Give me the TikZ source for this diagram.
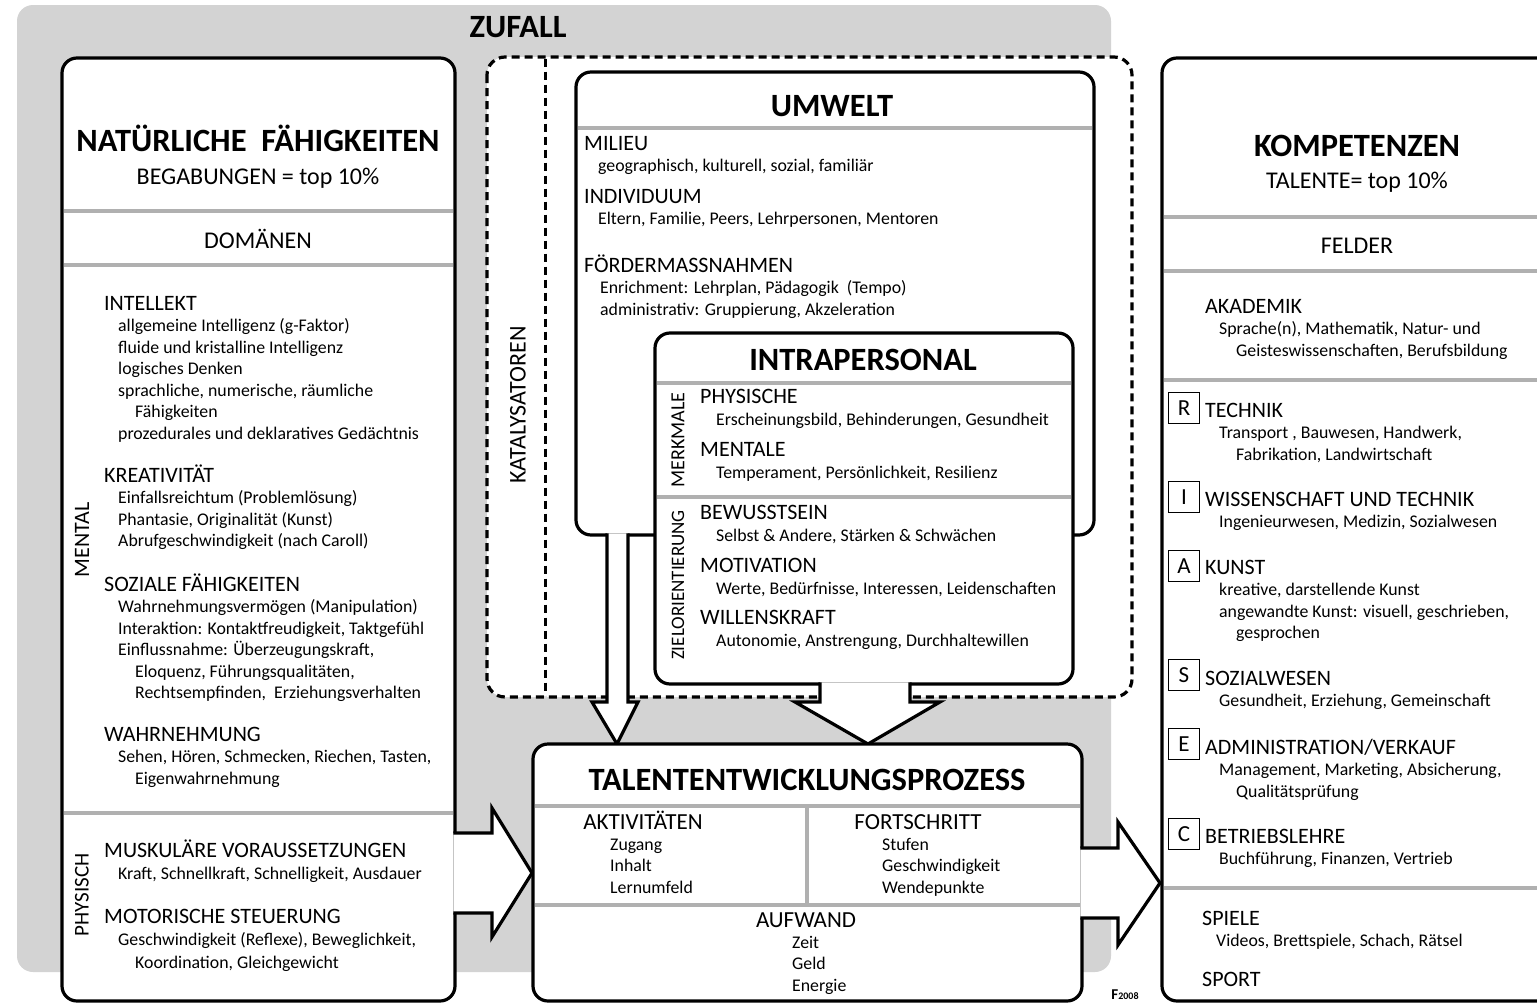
\documentclass[tikz,border=0pt]{standalone}
\usepackage{fontspec}
\setmainfont{Carlito}
\usetikzlibrary{positioning}

\definecolor{zgray}{RGB}{211,211,211}
\definecolor{sepgray}{RGB}{176,176,176}

\newcommand{\hd}[1]{{\fontsize{22}{22}\selectfont\rule{0pt}{18pt}#1}}
\newcommand{\itm}{\hspace*{14pt}}
\newcommand{\cnt}{\hspace*{31pt}}

\tikzset{
  box/.style={draw, line width=3.2pt, fill=white, rounded corners=15pt},
  hline/.style={draw=sepgray, line width=4pt},
  kat/.style={draw, line width=3.2pt, dash pattern=on 8pt off 5pt, fill=white, rounded corners=18pt},
  arr/.style={draw, line width=3.2pt, fill=white, line join=miter, miter limit=10},
  ttl/.style={anchor=base, inner sep=0, font=\fontsize{32.5}{32.5}\selectfont\bfseries},
  subttl/.style={anchor=base, inner sep=0, font=\fontsize{24}{24}\selectfont},
  grp/.style={anchor=north west, yshift=18pt, inner sep=0, align=left, font=\fontsize{17.8}{21.5}\selectfont},
  side/.style={rotate=90, inner sep=0, font=\fontsize{22}{22}\selectfont},
  lbox/.style={draw, line width=1.3pt, minimum size=31pt, inner sep=0, font=\fontsize{23}{23}\selectfont},
}

\begin{document}
\begin{tikzpicture}[x=1pt, y=-1pt]
    \useasboundingbox (0,0) rectangle (1537,1004);
    \clip (0,0) rectangle (1537,1004);

    % zufall
    \fill[zgray, rounded corners=16pt] (17,5) rectangle (1111,972);
    \node(zuf) [ttl] at (518,37) {ZUFALL};

    % katalysatoren
    \draw[kat] (487,57) rectangle (1132,697);
    \draw[line width=3pt, dash pattern=on 8pt off 5pt] (545,58.5) -- (545,695.5);
    \node(kat) [side, font=\fontsize{24}{24}\selectfont] at (518,405) {KATALYSATOREN};

    % umwelt
    \draw[box] (576,72) rectangle (1094,535);
    \draw[arr] (607,533.4) -- (607,702) -- (592,702) -- (617,744) -- (638,702) -- (628,702) -- (628,533.4);
    \draw[hline] (578,128) -- (1092,128);
    \node(umw) [ttl] at (832,116) {UMWELT};
    \node(mil) [grp] at (584,150) {\hd{MILIEU}\\ \itm geographisch, kulturell, sozial, familiär};
    \node(ind) [grp] at (584,203) {\hd{INDIVIDUUM}\\ \itm Eltern, Familie, Peers, Lehrpersonen, Mentoren};
    \node(foe) [grp] at (584,272) {\hd{FÖRDERMASSNAHMEN}\\ \hspace*{16pt}Enrichment: Lehrplan, Pädagogik~~(Tempo)\\ \hspace*{16pt}administrativ: Gruppierung, Akzeleration};

    % intrapersonal
    \draw[box] (655,333) rectangle (1073,684);
    \draw[arr] (820,682.4) -- (820,702) -- (795,702) -- (868,744) -- (940,702) -- (910,702) -- (910,682.4);
    \draw[hline] (657,383) -- (1071,383);
    \draw[hline] (657,497) -- (1071,497);
    \node(intra) [ttl] at (863,370) {INTRAPERSONAL};
    \node(merk) [side, font=\fontsize{20}{20}\selectfont] at (678,440) {MERKMALE};
    \node(ziel) [side, font=\fontsize{19}{19}\selectfont] at (678,585) {ZIELORIENTIERUNG};
    \node(phy) [grp, font=\fontsize{17.8}{22}\selectfont] at (700,403) {\hd{PHYSISCHE}\\ \hspace*{16pt}Erscheinungsbild, Behinderungen, Gesundheit};
    \node(men) [grp, font=\fontsize{17.8}{22}\selectfont] at (700,456) {\hd{MENTALE}\\ \hspace*{16pt}Temperament, Persönlichkeit, Resilienz};
    \node(bew) [grp, font=\fontsize{17.8}{22}\selectfont] at (700,519) {\hd{BEWUSSTSEIN}\\ \hspace*{16pt}Selbst \& Andere, Stärken \& Schwächen};
    \node(mot) [grp, font=\fontsize{17.8}{22}\selectfont] at (700,572) {\hd{MOTIVATION}\\ \hspace*{16pt}Werte, Bedürfnisse, Interessen, Leidenschaften};
    \node(wil) [grp, font=\fontsize{17.8}{22}\selectfont] at (700,624) {\hd{WILLENSKRAFT}\\ \hspace*{16pt}Autonomie, Anstrengung, Durchhaltewillen};

    % talententwicklungsprozess
    \draw[box] (533,744) rectangle (1082,1001);
    \draw[hline] (535,806) -- (1080,806);
    \draw[hline] (807,806) -- (807,905);
    \draw[hline] (535,905) -- (1080,905);
    \node(tep) [ttl] at (807,790) {TALENTENTWICKLUNGSPROZESS};
    \node(akt) [subttl, font=\fontsize{23}{23}\selectfont] at (643,829) {AKTIVITÄTEN};
    \node(aktl) [grp] at (610,850) {\rule{0pt}{18pt}Zugang\\ Inhalt\\ Lernumfeld};
    \node(fort) [subttl, font=\fontsize{23}{23}\selectfont] at (918,829) {FORTSCHRITT};
    \node(fortl) [grp] at (882,850) {\rule{0pt}{18pt}Stufen\\ Geschwindigkeit\\ Wendepunkte};
    \node(aufw) [subttl, font=\fontsize{23}{23}\selectfont] at (806,927) {AUFWAND};
    \node(aufwl) [grp] at (792,948) {\rule{0pt}{18pt}Zeit\\ Geld\\ Energie};

    % natuerliche faehigkeiten
    \draw[box] (62,58) rectangle (455,1001);
    \draw[arr] (453.4,833) -- (492,833) -- (492,808) -- (532,873) -- (492,937) -- (492,913) -- (453.4,913);
    \draw[hline] (64,211) -- (453,211);
    \draw[hline] (64,265) -- (453,265);
    \draw[hline] (64,813) -- (453,813);
    \node(nat) [ttl] at (258,151) {NATÜRLICHE~~FÄHIGKEITEN};
    \node(beg) [subttl] at (258,184) {BEGABUNGEN = top 10\%};
    \node(dom) [subttl] at (258,248) {DOMÄNEN};
    \node(mental) [side] at (82,540) {MENTAL};
    \node(physisch) [side, font=\fontsize{21}{21}\selectfont] at (82,895) {PHYSISCH};
    \node(intel) [grp] at (104,310) {\hd{INTELLEKT}\\ \itm allgemeine Intelligenz (g-Faktor)\\ \itm fluide und kristalline Intelligenz\\ \itm logisches Denken\\ \itm sprachliche, numerische, räumliche\\ \cnt Fähigkeiten\\ \itm prozedurales und deklaratives Gedächtnis};
    \node(krea) [grp] at (104,482) {\hd{KREATIVITÄT}\\ \itm Einfallsreichtum (Problemlösung)\\ \itm Phantasie, Originalität (Kunst)\\ \itm Abrufgeschwindigkeit (nach Caroll)};
    \node(soz) [grp] at (104,591) {\hd{SOZIALE FÄHIGKEITEN}\\ \itm Wahrnehmungsvermögen (Manipulation)\\ \itm Interaktion: Kontaktfreudigkeit, Taktgefühl\\ \itm Einflussnahme: Überzeugungskraft,\\ \cnt Eloquenz, Führungsqualitäten,\\ \cnt Rechtsempfinden,~~Erziehungsverhalten};
    \node(wahr) [grp] at (104,741) {\hd{WAHRNEHMUNG}\\ \itm Sehen, Hören, Schmecken, Riechen, Tasten,\\ \cnt Eigenwahrnehmung};
    \node(musk) [grp, font=\fontsize{17.8}{22.5}\selectfont] at (104,857) {\hd{MUSKULÄRE VORAUSSETZUNGEN}\\ \itm Kraft, Schnellkraft, Schnelligkeit, Ausdauer};
    \node(moto) [grp, font=\fontsize{17.8}{22.5}\selectfont] at (104,923) {\hd{MOTORISCHE STEUERUNG}\\ \itm Geschwindigkeit (Reflexe), Beweglichkeit,\\ \cnt Koordination, Gleichgewicht};

    \draw[arr] (1080.4,848) -- (1118,848) -- (1118,822) -- (1160,883) -- (1118,945) -- (1118,918) -- (1080.4,918);

    % kompetenzen
    \draw[box] (1162,58) rectangle (1580,1001);
    \draw[hline] (1164,217) -- (1537,217);
    \draw[hline] (1164,271) -- (1537,271);
    \draw[hline] (1164,380) -- (1537,380);
    \draw[hline] (1164,888) -- (1537,888);
    \node(komp) [ttl] at (1357,156) {KOMPETENZEN};
    \node(tal) [subttl] at (1357,188) {TALENTE= top 10\%};
    \node(feld) [subttl] at (1357,253) {FELDER};
    \node(akad) [grp] at (1205,313) {\hd{AKADEMIK}\\ \itm Sprache(n), Mathematik, Natur- und\\ \cnt Geisteswissenschaften, Berufsbildung};
    \node(rb) [lbox] at (1184,408) {R};
    \node(tech) [grp] at (1205,417) {\hd{TECHNIK}\\ \itm Transport , Bauwesen, Handwerk,\\ \cnt Fabrikation, Landwirtschaft};
    \node(ib) [lbox] at (1184,497) {I};
    \node(wiss) [grp] at (1205,506) {\hd{WISSENSCHAFT UND TECHNIK}\\ \itm Ingenieurwesen, Medizin, Sozialwesen};
    \node(ab) [lbox] at (1184,566) {A};
    \node(kunst) [grp] at (1205,574) {\hd{KUNST}\\ \itm kreative, darstellende Kunst\\ \itm angewandte Kunst: visuell, geschrieben,\\ \cnt gesprochen};
    \node(sb) [lbox] at (1184,675) {S};
    \node(sozw) [grp] at (1205,685) {\hd{SOZIALWESEN}\\ \itm Gesundheit, Erziehung, Gemeinschaft};
    \node(eb) [lbox] at (1184,744) {E};
    \node(adm) [grp] at (1205,754) {\hd{ADMINISTRATION/VERKAUF}\\ \itm Management, Marketing, Absicherung,\\ \cnt Qualitätsprüfung};
    \node(cb) [lbox] at (1184,834) {C};
    \node(betr) [grp] at (1205,843) {\hd{BETRIEBSLEHRE}\\ \itm Buchführung, Finanzen, Vertrieb};
    \node(spiel) [grp] at (1202,925) {\hd{SPIELE}\\ \itm Videos, Brettspiele, Schach, Rätsel};
    \node(sport) [grp] at (1202,986) {\hd{SPORT}};

    \node(cr) [inner sep=0, font=\fontsize{10}{10}\selectfont\bfseries] at (1125,995) {{\fontsize{15}{15}\selectfont F}2008};
\end{tikzpicture}
\end{document}
